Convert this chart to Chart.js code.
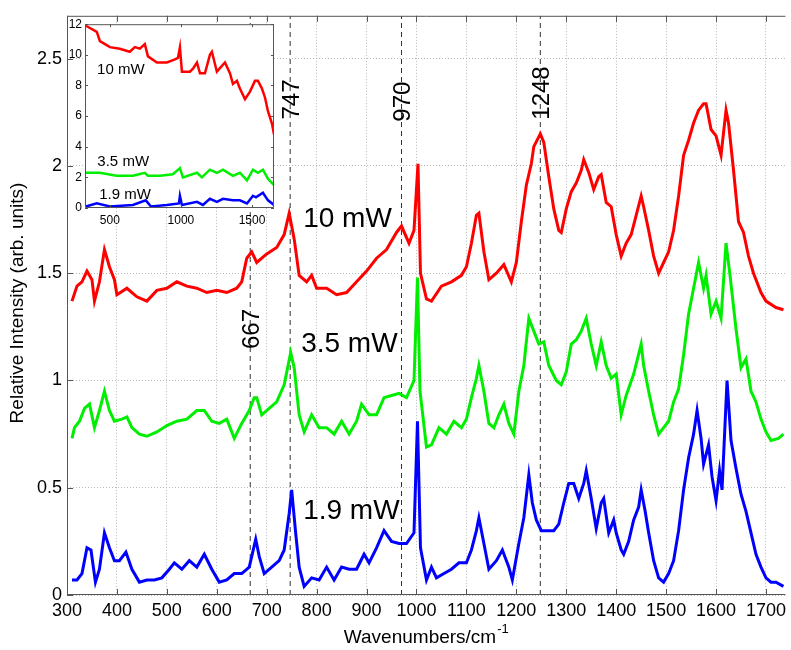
<!DOCTYPE html>
<html>
<head>
<meta charset="utf-8">
<script src="https://cdn.jsdelivr.net/npm/chart.js@4.4.1/dist/chart.umd.min.js"></script>
<style>
body { margin: 0; background: #fff; }
#wrap { position: relative; width: 791px; height: 650px; overflow: hidden; }
#main { position: absolute; left: 0; top: 0; }
#inset { position: absolute; left: 60px; top: 14px; }
</style>
</head>
<body>
<div id="wrap">
<canvas id="main" width="791" height="650"></canvas>
<canvas id="inset" width="222" height="216"></canvas>
</div>
<script>
// tick labels
var xTicks = [300, 400, 500, 600, 700, 800, 900, 1000, 1100, 1200, 1300, 1400, 1500, 1600, 1700];
var yTicks = [0, 0.5, 1, 1.5, 2, 2.5];
var insetXTicks = [500, 1000, 1500];
var insetYTicks = [0, 2, 4, 6, 8, 10, 12];

// marked bands (cm-1)
var peaks = [667, 747, 970, 1248];

// normalised spectra [wavenumber, intensity]
var red10 = [[310,1.37],[320,1.44],[330,1.46],[340,1.51],[350,1.47],[355,1.37],[365,1.46],[375,1.61],[385,1.53],[395,1.47],
  [400,1.40],[420,1.43],[440,1.39],[460,1.37],[480,1.42],[500,1.43],[520,1.46],[540,1.44],[560,1.43],[580,1.41],
  [600,1.42],[620,1.41],[640,1.43],[650,1.46],[660,1.57],[670,1.60],[680,1.55],[700,1.59],[720,1.62],[735,1.68],
  [745,1.78],[755,1.66],[765,1.49],[780,1.46],[790,1.49],[800,1.43],[820,1.43],[840,1.40],[860,1.41],[880,1.46],
  [900,1.51],[920,1.57],[940,1.61],[960,1.69],[970,1.72],[985,1.64],[995,1.70],[1003,2.01],[1008,1.50],[1020,1.38],
  [1030,1.37],[1050,1.44],[1070,1.46],[1090,1.49],[1100,1.53],[1110,1.64],[1120,1.77],[1125,1.78],[1135,1.60],[1145,1.47],
  [1160,1.50],[1175,1.54],[1190,1.46],[1200,1.55],[1210,1.74],[1220,1.91],[1230,2.01],[1235,2.09],[1248,2.15],[1255,2.11],
  [1265,1.95],[1275,1.80],[1285,1.70],[1290,1.69],[1300,1.80],[1310,1.88],[1320,1.92],[1330,1.98],[1335,2.03],[1345,1.97],
  [1355,1.89],[1365,1.95],[1370,1.96],[1380,1.83],[1390,1.81],[1400,1.68],[1410,1.58],[1420,1.64],[1430,1.68],[1440,1.77],
  [1450,1.86],[1455,1.81],[1465,1.70],[1475,1.58],[1485,1.50],[1495,1.55],[1505,1.60],[1515,1.70],[1525,1.86],[1535,2.05],
  [1545,2.12],[1555,2.20],[1565,2.26],[1575,2.29],[1580,2.29],[1590,2.17],[1600,2.14],[1610,2.05],[1620,2.26],[1625,2.20],
  [1635,1.98],[1645,1.74],[1655,1.69],[1665,1.58],[1675,1.50],[1690,1.41],[1700,1.37],[1720,1.34],[1735,1.33]];

var green35 = [[310,0.73],[315,0.78],[325,0.81],[335,0.87],[345,0.89],[355,0.78],[365,0.86],[375,0.95],[385,0.86],[395,0.81],
  [410,0.82],[420,0.83],[430,0.78],[445,0.75],[460,0.74],[480,0.76],[500,0.79],[520,0.81],[540,0.82],[560,0.86],
  [575,0.86],[590,0.81],[605,0.80],[620,0.82],[635,0.73],[650,0.80],[665,0.86],[675,0.92],[680,0.92],[690,0.84],
  [705,0.87],[720,0.90],[735,0.98],[748,1.13],[755,1.06],[765,0.84],[775,0.76],[790,0.84],[805,0.78],[820,0.78],
  [835,0.75],[850,0.81],[865,0.75],[880,0.81],[890,0.89],[905,0.84],[920,0.84],[935,0.92],[950,0.93],[965,0.94],
  [980,0.92],[995,1.00],[1002,1.48],[1007,0.95],[1020,0.69],[1030,0.70],[1045,0.78],[1060,0.75],[1075,0.81],[1090,0.78],
  [1100,0.82],[1110,0.92],[1120,1.01],[1125,1.07],[1135,0.95],[1145,0.80],[1155,0.78],[1165,0.84],[1175,0.89],[1185,0.80],
  [1195,0.75],[1205,0.95],[1215,1.07],[1225,1.29],[1235,1.23],[1245,1.17],[1255,1.18],[1265,1.07],[1280,1.00],[1290,0.98],
  [1300,1.04],[1310,1.17],[1320,1.19],[1330,1.23],[1340,1.29],[1350,1.17],[1360,1.07],[1370,1.18],[1380,1.07],[1390,1.01],
  [1400,1.03],[1410,0.84],[1420,0.93],[1435,1.03],[1450,1.17],[1455,1.07],[1465,0.95],[1475,0.84],[1485,0.75],[1495,0.78],
  [1505,0.81],[1515,0.90],[1525,0.96],[1535,1.12],[1545,1.31],[1555,1.43],[1565,1.55],[1575,1.43],[1580,1.49],[1590,1.31],
  [1600,1.37],[1610,1.29],[1620,1.64],[1628,1.49],[1640,1.24],[1650,1.06],[1660,1.10],[1670,0.95],[1680,0.90],[1690,0.82],
  [1700,0.76],[1710,0.72],[1725,0.73],[1735,0.75]];

var blue19 = [[310,0.07],[320,0.07],[330,0.10],[340,0.22],[348,0.21],[357,0.06],[365,0.12],[375,0.29],[385,0.22],[395,0.16],
  [405,0.16],[418,0.20],[430,0.12],[445,0.06],[460,0.07],[475,0.07],[490,0.08],[505,0.12],[515,0.15],[530,0.12],
  [545,0.16],[560,0.13],[575,0.19],[590,0.12],[605,0.06],[620,0.07],[635,0.10],[650,0.10],[665,0.13],[678,0.26],
  [685,0.18],[695,0.10],[710,0.13],[725,0.16],[735,0.21],[745,0.38],[750,0.49],[758,0.29],[765,0.13],[775,0.04],
  [790,0.08],[805,0.07],[820,0.13],[835,0.07],[850,0.13],[865,0.12],[880,0.12],[895,0.19],[905,0.15],[920,0.22],
  [935,0.30],[950,0.25],[965,0.24],[980,0.24],[995,0.29],[1002,0.81],[1008,0.22],[1020,0.07],[1030,0.13],[1040,0.08],
  [1055,0.10],[1070,0.12],[1085,0.15],[1100,0.15],[1110,0.21],[1120,0.30],[1125,0.36],[1135,0.24],[1145,0.12],[1160,0.16],
  [1172,0.21],[1185,0.13],[1192,0.07],[1205,0.24],[1215,0.36],[1225,0.56],[1232,0.43],[1240,0.35],[1250,0.30],[1262,0.30],
  [1275,0.30],[1285,0.33],[1295,0.43],[1305,0.52],[1315,0.52],[1325,0.45],[1335,0.52],[1340,0.58],[1350,0.45],[1360,0.31],
  [1370,0.43],[1375,0.45],[1385,0.29],[1395,0.35],[1400,0.29],[1410,0.21],[1415,0.19],[1425,0.25],[1435,0.35],[1445,0.41],
  [1450,0.49],[1458,0.39],[1465,0.29],[1475,0.16],[1485,0.08],[1495,0.06],[1505,0.10],[1515,0.16],[1525,0.30],[1535,0.49],
  [1545,0.64],[1555,0.75],[1562,0.86],[1570,0.73],[1575,0.61],[1585,0.70],[1592,0.55],[1600,0.44],[1607,0.58],[1612,0.49],
  [1622,1.00],[1630,0.72],[1640,0.59],[1650,0.47],[1660,0.39],[1670,0.29],[1680,0.19],[1690,0.13],[1700,0.08],[1710,0.06],
  [1720,0.06],[1735,0.04]];

// raw spectra for the inset
var insetRed = [[331,11.9],[408,11.5],[430,10.9],[500,10.5],[570,10.4],[640,10.2],[676,10.5],[711,10.4],[746,10.7],[768,9.9],
  [831,9.5],[901,9.5],[958,9.7],[979,9.8],[993,10.5],[1007,8.9],[1063,8.9],[1085,9.1],[1113,9.5],[1134,8.8],
  [1169,8.8],[1204,10.0],[1218,10.2],[1253,8.9],[1310,9.5],[1345,8.8],[1366,8.1],[1394,8.3],[1415,7.8],[1451,7.1],
  [1486,7.6],[1521,8.3],[1542,8.3],[1570,7.8],[1592,7.2],[1613,6.3],[1641,5.5],[1655,4.8]];
var insetGreen = [[331,2.3],[430,2.3],[547,2.1],[662,2.1],[746,2.3],[768,2.1],[852,2.1],[943,2.2],[993,2.6],[1014,2.0],
  [1113,2.3],[1148,2.0],[1204,2.5],[1253,2.3],[1296,2.5],[1366,2.1],[1415,2.3],[1465,1.8],[1507,2.5],[1542,2.3],
  [1577,2.5],[1613,1.9],[1655,1.5]];
var insetBlue = [[331,0.1],[408,0.3],[500,0.1],[662,0.2],[753,0.5],[789,0.1],[901,0.2],[986,0.3],[993,0.8],[1007,0.2],
  [1113,0.4],[1155,0.2],[1204,0.6],[1253,0.4],[1296,0.6],[1366,0.5],[1415,0.5],[1465,0.3],[1507,0.8],[1528,0.7],
  [1577,1.0],[1613,0.5],[1655,0.2]];

var FONT = "'Liberation Sans', Arial, Helvetica, sans-serif";

// where the texts sit, in data units
var peakLabelY = [1.24, 2.31, 2.30, 2.34];
var powerLabels = [['10 mW', 773, 1.75], ['3.5 mW', 769, 1.17], ['1.9 mW', 773, 0.39]];
var insetLabels = [['10 mW', 410, 9.0], ['3.5 mW', 412, 3.0], ['1.9 mW', 425, 0.85]];

function toPoints(arr) {
    return arr.map(function (p) { return {x: p[0], y: p[1]}; });
}

function plainLabel(v) {
    return String(v);
}

function drawFrame(chart, len, skipRight) {
    var ctx = chart.ctx, a = chart.chartArea, xs = chart.scales.x, ys = chart.scales.y;
    ctx.save();
    ctx.strokeStyle = '#555';
    ctx.lineWidth = 1;
    ctx.beginPath();
    ctx.moveTo(a.right - 0.5, a.top + 0.5);
    ctx.lineTo(a.left + 0.5, a.top + 0.5);
    ctx.lineTo(a.left + 0.5, a.bottom - 0.5);
    ctx.lineTo(a.right - 0.5, a.bottom - 0.5);
    if (!skipRight) ctx.lineTo(a.right - 0.5, a.top + 0.5);
    ctx.stroke();
    ctx.beginPath();
    xs.ticks.forEach(function (t) {
        var px = Math.round(xs.getPixelForValue(t.value)) + 0.5;
        ctx.moveTo(px, a.bottom); ctx.lineTo(px, a.bottom - len);
        ctx.moveTo(px, a.top); ctx.lineTo(px, a.top + len);
    });
    ys.ticks.forEach(function (t) {
        var py = Math.round(ys.getPixelForValue(t.value)) + 0.5;
        ctx.moveTo(a.left, py); ctx.lineTo(a.left + len, py);
        if (!skipRight) { ctx.moveTo(a.right, py); ctx.lineTo(a.right - len, py); }
    });
    ctx.stroke();
    ctx.restore();
}

var mainDecor = {
    id: 'mainDecor',
    afterDatasetsDraw: function (chart) {
        var ctx = chart.ctx, xs = chart.scales.x, ys = chart.scales.y;
        drawFrame(chart, 6, true);
        ctx.save();
        ctx.fillStyle = '#000';
        ctx.textBaseline = 'middle';

        ctx.font = '24px ' + FONT;
        ctx.textAlign = 'center';
        peaks.forEach(function (w, i) {
            ctx.save();
            ctx.translate(xs.getPixelForValue(w) + 2, ys.getPixelForValue(peakLabelY[i]));
            ctx.rotate(-Math.PI / 2);
            ctx.fillText(String(w), 0, 0);
            ctx.restore();
        });

        ctx.font = '28px ' + FONT;
        ctx.textAlign = 'left';
        powerLabels.forEach(function (l) {
            ctx.fillText(l[0], xs.getPixelForValue(l[1]), ys.getPixelForValue(l[2]));
        });

        // axis titles
        ctx.font = '19px ' + FONT;
        ctx.save();
        ctx.translate(18, 303);
        ctx.rotate(-Math.PI / 2);
        ctx.textAlign = 'center';
        ctx.fillText('Relative Intensity (arb. units)', 0, 0);
        ctx.restore();

        var base = 'Wavenumbers/cm';
        var w = ctx.measureText(base).width;
        ctx.textAlign = 'left';
        var x0 = 420 - w / 2;
        ctx.fillText(base, x0, 638);
        ctx.font = '13px ' + FONT;
        ctx.fillText('-1', x0 + w + 1, 629);
        ctx.restore();
    }
};

var insetDecor = {
    id: 'insetDecor',
    beforeDatasetsDraw: function (chart) {
        var a = chart.chartArea;
        chart.ctx.save();
        chart.ctx.fillStyle = '#fff';
        chart.ctx.fillRect(a.left, a.top, a.right - a.left, a.bottom - a.top);
        chart.ctx.restore();
    },
    afterDatasetsDraw: function (chart) {
        var ctx = chart.ctx, xs = chart.scales.x, ys = chart.scales.y;
        drawFrame(chart, 3, false);
        ctx.save();
        ctx.fillStyle = '#000';
        ctx.textBaseline = 'middle';
        ctx.textAlign = 'left';
        ctx.font = '15px ' + FONT;
        insetLabels.forEach(function (l) {
            ctx.fillText(l[0], xs.getPixelForValue(l[1]), ys.getPixelForValue(l[2]));
        });
        ctx.restore();
    }
};

var mainSets = [
    {data: toPoints(red10), borderColor: '#ff0000', borderWidth: 3},
    {data: toPoints(green35), borderColor: '#00ee00', borderWidth: 3},
    {data: toPoints(blue19), borderColor: '#0000ff', borderWidth: 3}
];
peaks.forEach(function (w) {
    mainSets.push({data: [{x: w, y: 0}, {x: w, y: 2.7}], borderColor: '#333', borderWidth: 1, borderDash: [5, 4]});
});

new Chart(document.getElementById('main'), {
    type: 'line',
    data: {datasets: mainSets},
    options: {
        responsive: false,
        animation: false,
        devicePixelRatio: 1,
        layout: {padding: {top: 11, right: 0, left: 0, bottom: 0}},
        elements: {point: {radius: 0}, line: {tension: 0}},
        plugins: {legend: {display: false}, tooltip: {enabled: false}},
        scales: {
            x: {
                type: 'linear', min: 300, max: 1740,
                afterBuildTicks: function (s) { s.ticks = xTicks.map(function (v) { return {value: v}; }); },
                afterFit: function (s) { s.height = 55; },
                ticks: {font: {family: FONT, size: 18}, color: '#000', padding: 5, maxRotation: 0, autoSkip: false, callback: plainLabel},
                grid: {color: '#b8b8b8', drawTicks: false},
                border: {display: false, dash: [1, 2]}
            },
            y: {
                min: 0, max: 2.7,
                afterBuildTicks: function (s) { s.ticks = yTicks.map(function (v) { return {value: v}; }); },
                afterFit: function (s) { s.width = 67; },
                ticks: {font: {family: FONT, size: 18}, color: '#000', padding: 5, callback: plainLabel},
                grid: {color: '#b8b8b8', drawTicks: false},
                border: {display: false, dash: [1, 2]}
            }
        }
    },
    plugins: [mainDecor]
});

new Chart(document.getElementById('inset'), {
    type: 'line',
    data: {datasets: [
        {data: toPoints(insetRed), borderColor: '#ff0000', borderWidth: 2.5},
        {data: toPoints(insetGreen), borderColor: '#00ee00', borderWidth: 2.5},
        {data: toPoints(insetBlue), borderColor: '#0000ff', borderWidth: 2.5}
    ]},
    options: {
        responsive: false,
        animation: false,
        devicePixelRatio: 1,
        layout: {padding: {top: 8, right: 8, left: 0, bottom: 0}},
        elements: {point: {radius: 0}, line: {tension: 0}},
        plugins: {legend: {display: false}, tooltip: {enabled: false}},
        scales: {
            x: {
                type: 'linear', min: 325, max: 1655,
                afterBuildTicks: function (s) { s.ticks = insetXTicks.map(function (v) { return {value: v}; }); },
                afterFit: function (s) { s.height = 22; },
                ticks: {font: {family: FONT, size: 12}, color: '#000', padding: 5, maxRotation: 0, autoSkip: false, callback: plainLabel},
                grid: {display: false, drawTicks: false},
                border: {display: false}
            },
            y: {
                min: 0, max: 12,
                afterBuildTicks: function (s) { s.ticks = insetYTicks.map(function (v) { return {value: v}; }); },
                afterFit: function (s) { s.width = 25; },
                ticks: {font: {family: FONT, size: 12}, color: '#000', padding: 3, callback: plainLabel},
                grid: {display: false, drawTicks: false},
                border: {display: false}
            }
        }
    },
    plugins: [insetDecor]
});
</script>
</body>
</html>
